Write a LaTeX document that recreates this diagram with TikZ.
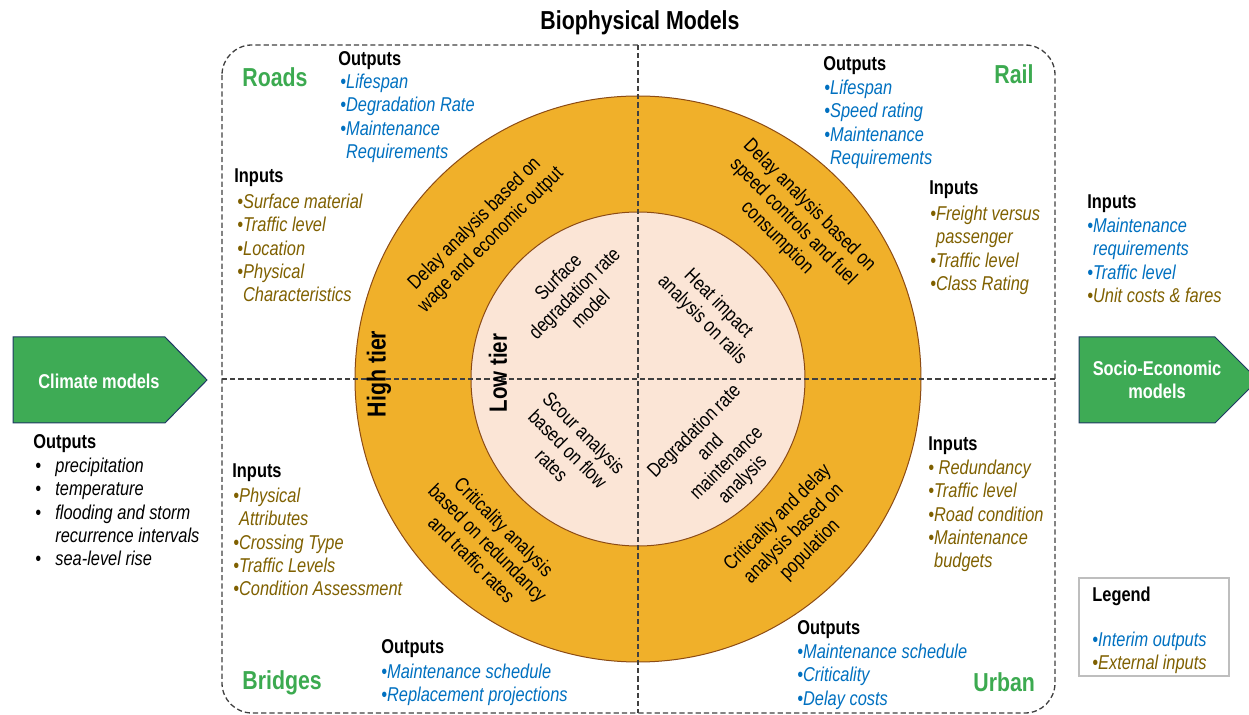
\documentclass[tikz,border=0pt]{standalone}
\usepackage{fontspec}
\setmainfont{Liberation Sans}[FakeStretch=0.82]
\usetikzlibrary{positioning}
\definecolor{ringorange}{RGB}{240,176,42}
\definecolor{corepeach}{RGB}{251,229,214}
\definecolor{ringedge}{RGB}{140,75,20}
\definecolor{sectgreen}{RGB}{60,170,80}
\definecolor{boxgreen}{RGB}{62,171,85}
\definecolor{boxedge}{RGB}{31,56,100}
\definecolor{outblue}{RGB}{0,112,192}
\definecolor{inolive}{RGB}{127,96,0}
\definecolor{framegray}{RGB}{64,64,64}
\definecolor{legendgray}{RGB}{190,190,190}
\newcommand{\bl}{\textbullet}
\newcommand{\hang}{\hphantom{\textbullet}}

\begin{document}
\begin{tikzpicture}[x=0.5pt,y=0.5pt,
    frame/.style={draw=framegray,line width=.65pt,dash pattern=on 2.6pt off 1.5pt},
    ring/.style={fill=ringorange,draw=ringedge,line width=.5pt},
    core/.style={fill=corepeach,draw=ringedge,line width=.5pt},
    model/.style={fill=boxgreen,draw=boxedge,line width=.5pt},
    modeltxt/.style={align=center,inner sep=0pt,text=white,font=\bfseries\fontsize{10}{11.4}\selectfont},
    hdr/.style={anchor=base west,inner sep=0pt,font=\bfseries\fontsize{10}{11.6}\selectfont},
    lst/.style={anchor=north west,inner sep=0pt,align=left,font=\itshape\fontsize{10}{11.6}\selectfont},
    outs/.style={lst,text=outblue},
    ins/.style={lst,text=inolive},
    sector/.style={anchor=base west,inner sep=0pt,text=sectgreen,font=\bfseries\fontsize{13}{15}\selectfont},
    ringtxt/.style={align=center,inner sep=0pt,font=\fontsize{10}{11.4}\selectfont},
    tier/.style={rotate=90,inner sep=0pt,font=\bfseries\fontsize{13}{15}\selectfont},
  ]
    \useasboundingbox (0,0) rectangle (1249,-715);
    \clip (0,0) rectangle (1249,-715);

    % two tiers of models, one circle inside the other
    \coordinate (cen) at (638,-379);
    \draw[ring] (cen) circle[radius=283];
    \draw[core] (cen) circle[radius=167];

    % the four sectors
    \draw[frame,rounded corners=15pt] (222,-45) rectangle (1055,-713);
    \draw[frame] (638,-45) -- (638,-713);
    \draw[frame] (222,-379) -- (1055,-379);

    \node[font=\bfseries\fontsize{13}{15}\selectfont] (title) at (640,-23) {Biophysical Models};

    \node[tier] (high) at (379,-374) {High tier};
    \node[tier,font=\bfseries\fontsize{12.5}{15}\selectfont] (low) at (498,-373) {Low tier};

    % high tier (ring)
    \node[ringtxt,rotate=45] (roadsring) at (483,-232) {Delay analysis based on\\wage and economic output};
    \node[ringtxt,rotate=-45] (railring) at (793,-222) {Delay analysis based on\\speed controls and fuel\\consumption};
    \node[ringtxt,rotate=-45] (bridgering) at (488,-543) {Criticality analysis\\based on redundancy\\and traffic rates};
    \node[ringtxt,rotate=45] (urbanring) at (794,-534) {Criticality and delay\\analysis based on\\population};

    % low tier (core)
    \node[ringtxt,rotate=45] (roadscore) at (574,-293) {Surface\\degradation rate\\model};
    \node[ringtxt,rotate=-45] (railcore) at (710,-312) {Heat impact\\analysis on rails};
    \node[ringtxt,rotate=-45] (bridgecore) at (568,-449) {Scour analysis\\based on flow\\rates};
    \node[ringtxt,rotate=45] (urbancore) at (719,-456) {Degradation rate\\and\\maintenance\\analysis};

    % Roads
    \node[sector] (roads) at (242,-87) {Roads};
    \node[hdr] (roadsouthdr) at (338,-66) {Outputs};
    \node[outs] (roadsout) at (340,-72) {\strut\bl Lifespan\\\bl Degradation Rate\\\bl Maintenance\\\hang Requirements};
    \node[hdr] (roadsinhdr) at (234,-183) {Inputs};
    \node[ins] (roadsin) at (237,-192) {\strut\bl Surface material\\\bl Traffic level\\\bl Location\\\bl Physical\\\hang Characteristics};

    % Rail
    \node[sector] (rail) at (994,-84) {Rail};
    \node[hdr] (railouthdr) at (823,-71) {Outputs};
    \node[outs] (railout) at (824,-78) {\strut\bl Lifespan\\\bl Speed rating\\\bl Maintenance\\\hang Requirements};
    \node[hdr] (railinhdr) at (929,-195) {Inputs};
    \node[ins] (railin) at (930,-204) {\strut\bl Freight versus\\\hang passenger\\\bl Traffic level\\\bl Class Rating};

    % Bridges
    \node[sector] (bridges) at (242,-690) {Bridges};
    \node[hdr] (bridgeinhdr) at (232,-478) {Inputs};
    \node[ins] (bridgein) at (233,-486) {\strut\bl Physical\\\hang Attributes\\\bl Crossing Type\\\bl Traffic Levels\\\bl Condition Assessment};
    \node[hdr] (bridgeouthdr) at (381,-654) {Outputs};
    \node[outs] (bridgeout) at (381,-662) {\strut\bl Maintenance schedule\\\bl Replacement projections};

    % Urban
    \node[sector] (urban) at (973,-692) {Urban};
    \node[hdr] (urbaninhdr) at (928,-451) {Inputs};
    \node[ins] (urbanin) at (928,-458) {\strut\bl{} Redundancy\\\bl Traffic level\\\bl Road condition\\\bl Maintenance\\\hang budgets};
    \node[hdr] (urbanouthdr) at (797,-635) {Outputs};
    \node[outs] (urbanout) at (797,-642) {\strut\bl Maintenance schedule\\\bl Criticality\\\bl Delay costs};

    % climate models feed in on the left
    \draw[model] (13,-337) -- (165,-337) -- (207,-380) -- (165,-423) -- (13,-423) -- cycle;
    \node[modeltxt] (climate) at (99,-381) {Climate models};
    \node[hdr] (climatehdr) at (33,-449) {Outputs};
    \node[lst] (climateout) at (35,-456) {\strut\makebox[10pt][l]{\bl}precipitation\\\makebox[10pt][l]{\bl}temperature\\\makebox[10pt][l]{\bl}flooding and storm\\\hspace*{10pt}recurrence intervals\\\makebox[10pt][l]{\bl}sea-level rise};

    % socio-economic models on the right
    \draw[model] (1079,-337) -- (1215,-337) -- (1258,-380) -- (1215,-423) -- (1079,-423) -- cycle;
    \node[modeltxt] (socio) at (1157,-380) {Socio-Economic\\models};
    \node[hdr] (sociohdr) at (1087,-209) {Inputs};
    \node[outs] (socioin) at (1087,-216) {\strut\bl Maintenance\\\hang requirements\\\bl Traffic level\\\textcolor{inolive}{\bl Unit costs \& fares}};

    % legend
    \draw[draw=legendgray,line width=.6pt] (1079,-578) rectangle (1229,-676);
    \node[hdr] (legend) at (1092,-602) {Legend};
    \node[lst] (legendkey) at (1092,-630) {\strut\textcolor{outblue}{\bl Interim outputs}\\\textcolor{inolive}{\bl External inputs}};
\end{tikzpicture}
\end{document}
